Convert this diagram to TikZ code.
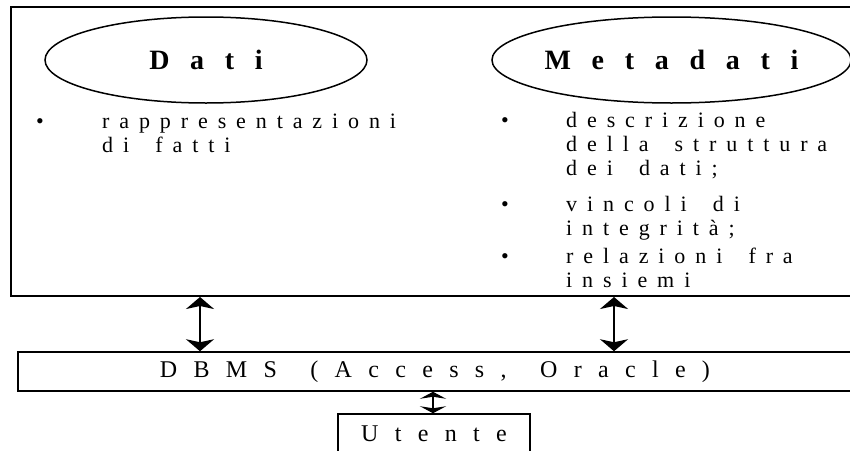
\documentclass[tikz,border=0pt]{standalone}
\usepackage{fontspec}
\setmainfont{Liberation Serif}
\newfontfamily\spacedbody[LetterSpace=45,WordSpace=1.7]{Liberation Serif}
\newfontfamily\spacedtitle[LetterSpace=74]{Liberation Serif}
\newfontfamily\spacedbox[LetterSpace=68,WordSpace=1.5]{Liberation Serif}
\usetikzlibrary{arrows.meta,shapes.geometric,positioning}

\tikzset{
  frame/.style={draw,line width=2pt,inner sep=0pt},
  blob/.style={draw,ellipse,line width=1.5pt,inner sep=0pt,
    minimum width=322pt,minimum height=86pt,
    font=\spacedtitle\bfseries\fontsize{28}{32}\selectfont},
  bodytext/.style={anchor=base west,inner sep=0pt,
    font=\spacedbody\fontsize{22}{24}\selectfont},
  dot/.style={anchor=base,inner sep=0pt,font=\fontsize{22}{24}\selectfont},
  boxtext/.style={draw,line width=1.5pt,inner sep=0pt,
    font=\spacedbox\fontsize{24}{28}\selectfont},
  biarrow/.style={{Stealth[width=28pt,length=12pt,inset=3pt]}-{Stealth[width=28pt,length=12pt,inset=3pt]},line width=2pt},
  smallarrow/.style={{Stealth[width=26pt,length=7pt,inset=2pt]}-{Stealth[width=26pt,length=7pt,inset=2pt]},line width=2pt}
}

\begin{document}
\begin{tikzpicture}[x=1pt,y=-1pt]
  \useasboundingbox (0,0) rectangle (850,450);
  \clip (0,0) rectangle (850,450);

  % outer frame and the two ellipses
  \node[frame,minimum width=855pt,minimum height=289pt] (schema) at (438.5,151.5) {};
  \node[blob] (dati) at (206,60) {Dati};
  \node[blob] (meta) at (671.5,60) {Metadati};

  % bullet texts
  \node[dot] (b1) at (40,128) {•};
  \node[bodytext] (dati1) at (102,128) {rappresentazioni};
  \node[bodytext] (dati2) at (102,152) {di fatti};
  \foreach \yy in {127,211,263}
    \node[dot] at (505,\yy) {•};
  \foreach \txt/\yy [count=\i] in {descrizione/127,della struttura/151.5,{dei dati;}/175.5,
      vincoli di/211,integrità;/235,relazioni fra/263,insiemi/287}
    \node[bodytext] (meta\i) at (566,\yy) {\txt};

  % DBMS and user
  \node[boxtext,minimum width=834pt,minimum height=39pt] (dbms) at (435,371.5) {DBMS (Access, Oracle)};
  \node[boxtext,minimum width=192pt,minimum height=40pt] (utente) at (434,434) {Utente};

  % links
  \coordinate (aL) at (200,0);
  \coordinate (aR) at (614,0);
  \coordinate (aU) at (433,0);
  \draw[biarrow] (schema.south -| aL) -- (dbms.north -| aL);
  \draw[biarrow] (schema.south -| aR) -- (dbms.north -| aR);
  \draw[smallarrow] (dbms.south -| aU) -- (utente.north -| aU);
\end{tikzpicture}
\end{document}
